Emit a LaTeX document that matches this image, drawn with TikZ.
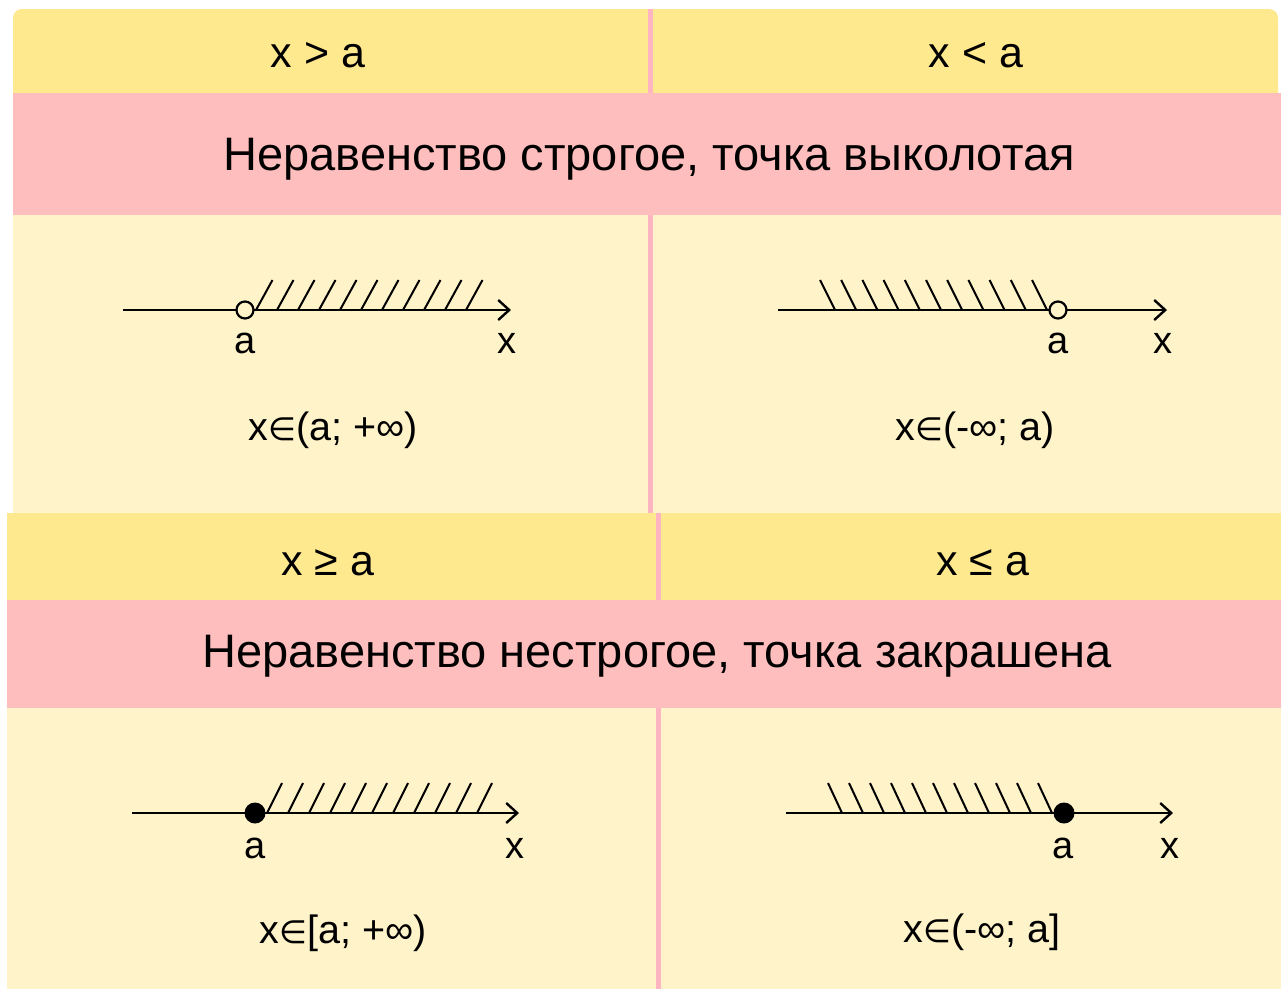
\documentclass[tikz,border=0pt]{standalone}
\usepackage{fontspec}
\setmainfont{Liberation Sans}
\newfontfamily\symf{DejaVu Sans}
\usetikzlibrary{arrows.meta}
\definecolor{hdr}{HTML}{FFE98E}
\definecolor{pnk}{HTML}{FFBEBE}
\definecolor{bdy}{HTML}{FFF3CA}
\definecolor{dvd}{HTML}{FFB4C2}
\newcommand{\elem}{{\symf\fontsize{32}{38}\selectfont ∈}}
\tikzset{
  hdrtext/.style={font=\fontsize{43}{50}\selectfont, inner sep=0pt, anchor=center},
  pnktext/.style={font=\fontsize{47}{56}\selectfont, inner sep=0pt, anchor=center},
  lbl/.style={font=\fontsize{38}{44}\selectfont, inner sep=0pt, anchor=center},
  ivl/.style={font=\fontsize{39.5}{46}\selectfont, inner sep=0pt, anchor=center},
  axis/.style={line width=2.4pt, -{Straight Barb[length=11pt,width=20pt,line width=2.4pt]}},
  hatch/.style={line width=2pt},
  opendot/.style={circle, draw=black, line width=2.2pt, fill=bdy, minimum size=17pt, inner sep=0pt},
  fulldot/.style={circle, fill=black, minimum size=21pt, inner sep=0pt},
  divider/.style={fill=dvd}
}
\begin{document}
\begin{tikzpicture}[x=1pt,y=-1pt]
\useasboundingbox[fill=white] (0,0) rectangle (1281,989);
% ---------- top table ----------
\fill[hdr] (13,93) [rounded corners=9pt] -- (13,9) -- (1278,9) [sharp corners] -- (1278,93) -- cycle;
\fill[pnk] (13,93) rectangle (1281,215);
\fill[bdy] (13,215) rectangle (1281,513);
\fill[divider] (647.5,9) rectangle (652.5,93);
\fill[divider] (647.5,215) rectangle (652.5,513);
% ---------- bottom table ----------
\fill[hdr] (7,513) rectangle (1281,600);
\fill[pnk] (7,600) rectangle (1281,708);
\fill[bdy] (7,708) rectangle (1281,989);
\fill[divider] (655.5,513) rectangle (660.5,600);
\fill[divider] (655.5,708) rectangle (660.5,989);

% ---------- texts ----------
\node[hdrtext] (h1) at (318,55) {x > a};
\node[hdrtext] (h2) at (976,55) {x < a};
\node[pnktext] (p1) at (649,159) {Неравенство строгое, точка выколотая};
\node[hdrtext] (h3) at (328,563) {x ≥ a};
\node[hdrtext] (h4) at (983,563) {x ≤ a};
\node[pnktext] (p2) at (657,656) {Неравенство нестрогое, точка закрашена};

% ---------- panel 1: x > a ----------
\coordinate (s1) at (123,310);
\coordinate (e1) at (511,310);
\foreach \i in {0,...,10} \draw[hatch] (256+21*\i,310) -- ++(16.5,-30);
\draw[axis] (s1) -- (e1);
\node[opendot] (d1) at (245,310) {};
\node[lbl] (a1) at (245,343) {a};
\node[lbl] (x1) at (507,343) {x};
\node[ivl] (i1) at (333,430) {x\elem(a; +∞)};

% ---------- panel 2: x < a ----------
\coordinate (s2) at (778,310);
\coordinate (e2) at (1167,310);
\foreach \i in {0,...,10} \draw[hatch] (820+21.2*\i,280) -- ++(15,30);
\draw[axis] (s2) -- (e2);
\node[opendot] (d2) at (1058,310) {};
\node[lbl] (a2) at (1058,343) {a};
\node[lbl] (x2) at (1163,343) {x};
\node[ivl] (i2) at (975,430) {x\elem(-∞; a)};

% ---------- panel 3: x >= a ----------
\coordinate (s3) at (132,813);
\coordinate (e3) at (519,813);
\foreach \i in {0,...,10} \draw[hatch] (267+21*\i,813) -- ++(15,-30);
\draw[axis] (s3) -- (e3);
\node[fulldot] (d3) at (255,813) {};
\node[lbl] (a3) at (255,848) {a};
\node[lbl] (x3) at (515,848) {x};
\node[ivl] (i3) at (343,933) {x\elem[a; +∞)};

% ---------- panel 4: x <= a ----------
\coordinate (s4) at (786,813);
\coordinate (e4) at (1173,813);
\foreach \i in {0,...,10} \draw[hatch] (828+21*\i,783) -- ++(14,30);
\draw[axis] (s4) -- (e4);
\node[fulldot] (d4) at (1064,813) {};
\node[lbl] (a4) at (1063,848) {a};
\node[lbl] (x4) at (1170,848) {x};
\node[ivl] (i4) at (982,932) {x\elem(-∞; a]};
\end{tikzpicture}
\end{document}
